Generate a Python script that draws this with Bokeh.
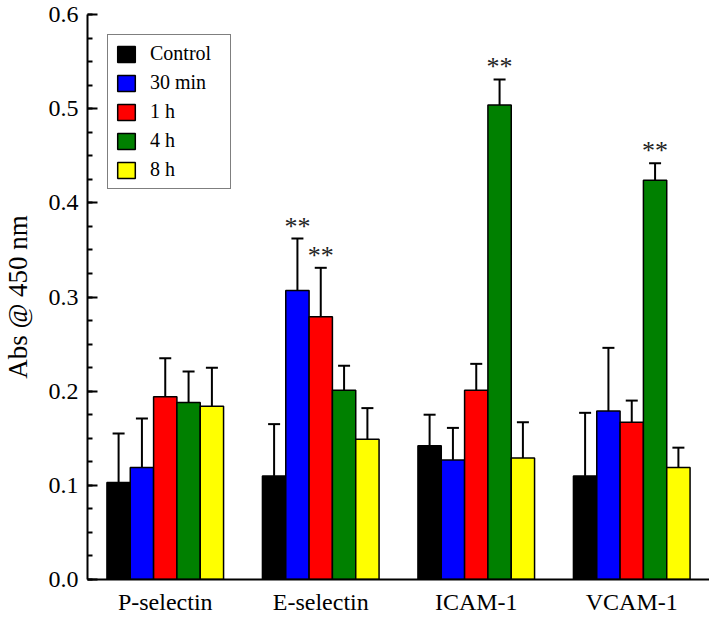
from bokeh.plotting import figure
from bokeh.models import (ColumnDataSource, Range1d, FixedTicker, PrintfTickFormatter,
                          Whisker, Legend, LegendItem, TeeHead, LabelSet)
from bokeh.embed import file_html
from bokeh.resources import INLINE
from bokeh.core.properties import value

# ---- data ----
proteins = ["P-selectin", "E-selectin", "ICAM-1", "VCAM-1"]
series = ["Control", "30 min", "1 h", "4 h", "8 h"]
colors = ["#000000", "#0000FF", "#FF0000", "#008000", "#FFFF00"]

control_mean = [0.103, 0.110, 0.142, 0.110]
control_err = [0.052, 0.055, 0.033, 0.067]
min30_mean = [0.119, 0.307, 0.127, 0.179]
min30_err = [0.052, 0.055, 0.034, 0.067]
h1_mean = [0.194, 0.279, 0.201, 0.167]
h1_err = [0.041, 0.052, 0.028, 0.023]
h4_mean = [0.188, 0.201, 0.504, 0.424]
h4_err = [0.033, 0.026, 0.027, 0.018]
h8_mean = [0.184, 0.149, 0.129, 0.119]
h8_err = [0.041, 0.033, 0.038, 0.021]

# significance marks per series (per protein)
control_sig = ["", "", "", ""]
min30_sig = ["", "**", "", ""]
h1_sig = ["", "**", "", ""]
h4_sig = ["", "", "**", "**"]
h8_sig = ["", "", "", ""]

y_ticks = [0.0, 0.1, 0.2, 0.3, 0.4, 0.5, 0.6]
y_title = "Abs @ 450 nm"

means = [control_mean, min30_mean, h1_mean, h4_mean, h8_mean]
errs = [control_err, min30_err, h1_err, h4_err, h8_err]
sigs = [control_sig, min30_sig, h1_sig, h4_sig, h8_sig]

FONT = "Liberation Serif"
bar_w = 0.15
group_x = [1, 2, 3, 4]

p = figure(width=721, height=617, output_backend="svg", toolbar_location=None,
           x_range=Range1d(0.5, 4.5), y_range=Range1d(0, 0.6),
           min_border_left=99, min_border_right=0, min_border_top=14, min_border_bottom=38)
p.styles = {"margin-left": "-12px"}
p.outline_line_color = None
p.xgrid.visible = False
p.ygrid.visible = False
p.background_fill_color = "white"

legend_items = []
for i, (name, col) in enumerate(zip(series, colors)):
    offset = (i - 2) * bar_w
    xs = [g + offset for g in group_x]
    tops = [m + e for m, e in zip(means[i], errs[i])]
    src = ColumnDataSource(dict(x=xs, top=means[i], upper=tops, sig=sigs[i]))
    r = p.vbar(x="x", top="top", width=bar_w, bottom=0, source=src,
               fill_color=col, line_color="black", line_width=1.5)
    legend_items.append(LegendItem(label=name, renderers=[r]))
    w = Whisker(base="x", lower="top", upper="upper", source=src, dimension="height",
                line_color="black", line_width=2,
                upper_head=TeeHead(size=12, line_color="black", line_width=2),
                lower_head=None)
    p.add_layout(w)
    lab = LabelSet(x="x", y="upper", text="sig", source=src, text_align="center",
                   text_baseline="alphabetic", y_offset=4,
                   text_font=value(FONT), text_font_size="26px", text_color="#222222")
    p.add_layout(lab)

legend = Legend(items=legend_items, location="top_left", margin=20, padding=7,
                spacing=6, label_height=20, label_width=73, glyph_width=22, glyph_height=20,
                label_standoff=13, label_text_font=FONT, label_text_font_size="20px",
                label_text_color="black",
                border_line_color="black", border_line_width=1,
                background_fill_alpha=1.0)
p.add_layout(legend)

ya = p.yaxis[0]
ya.ticker = FixedTicker(ticks=y_ticks, minor_ticks=[round(0.025 * k, 3) for k in range(25)])
ya.formatter = PrintfTickFormatter(format="%.1f")
ya.axis_label = y_title
ya.axis_label_text_font = FONT
ya.axis_label_text_font_size = "27px"
ya.axis_label_text_font_style = "normal"
ya.axis_label_text_color = "black"
ya.axis_label_standoff = 13
ya.major_label_text_font = FONT
ya.major_label_text_font_size = "24px"
ya.major_label_text_color = "black"
ya.major_label_standoff = 9
ya.major_tick_in = 10
ya.major_tick_out = 0
ya.minor_tick_in = 5
ya.minor_tick_out = 0
ya.axis_line_width = 2
ya.major_tick_line_width = 2
ya.minor_tick_line_width = 2

# x axis
xa = p.xaxis[0]
xa.ticker = FixedTicker(ticks=group_x, minor_ticks=[])
xa.major_label_overrides = {g: name for g, name in zip(group_x, proteins)}
xa.major_label_text_font = FONT
xa.major_label_text_font_size = "24px"
xa.major_label_text_color = "black"
xa.major_label_standoff = 3
xa.major_tick_line_color = None
xa.minor_tick_line_color = None
xa.axis_line_width = 2

open("out.html", "w").write(file_html(p, INLINE))
